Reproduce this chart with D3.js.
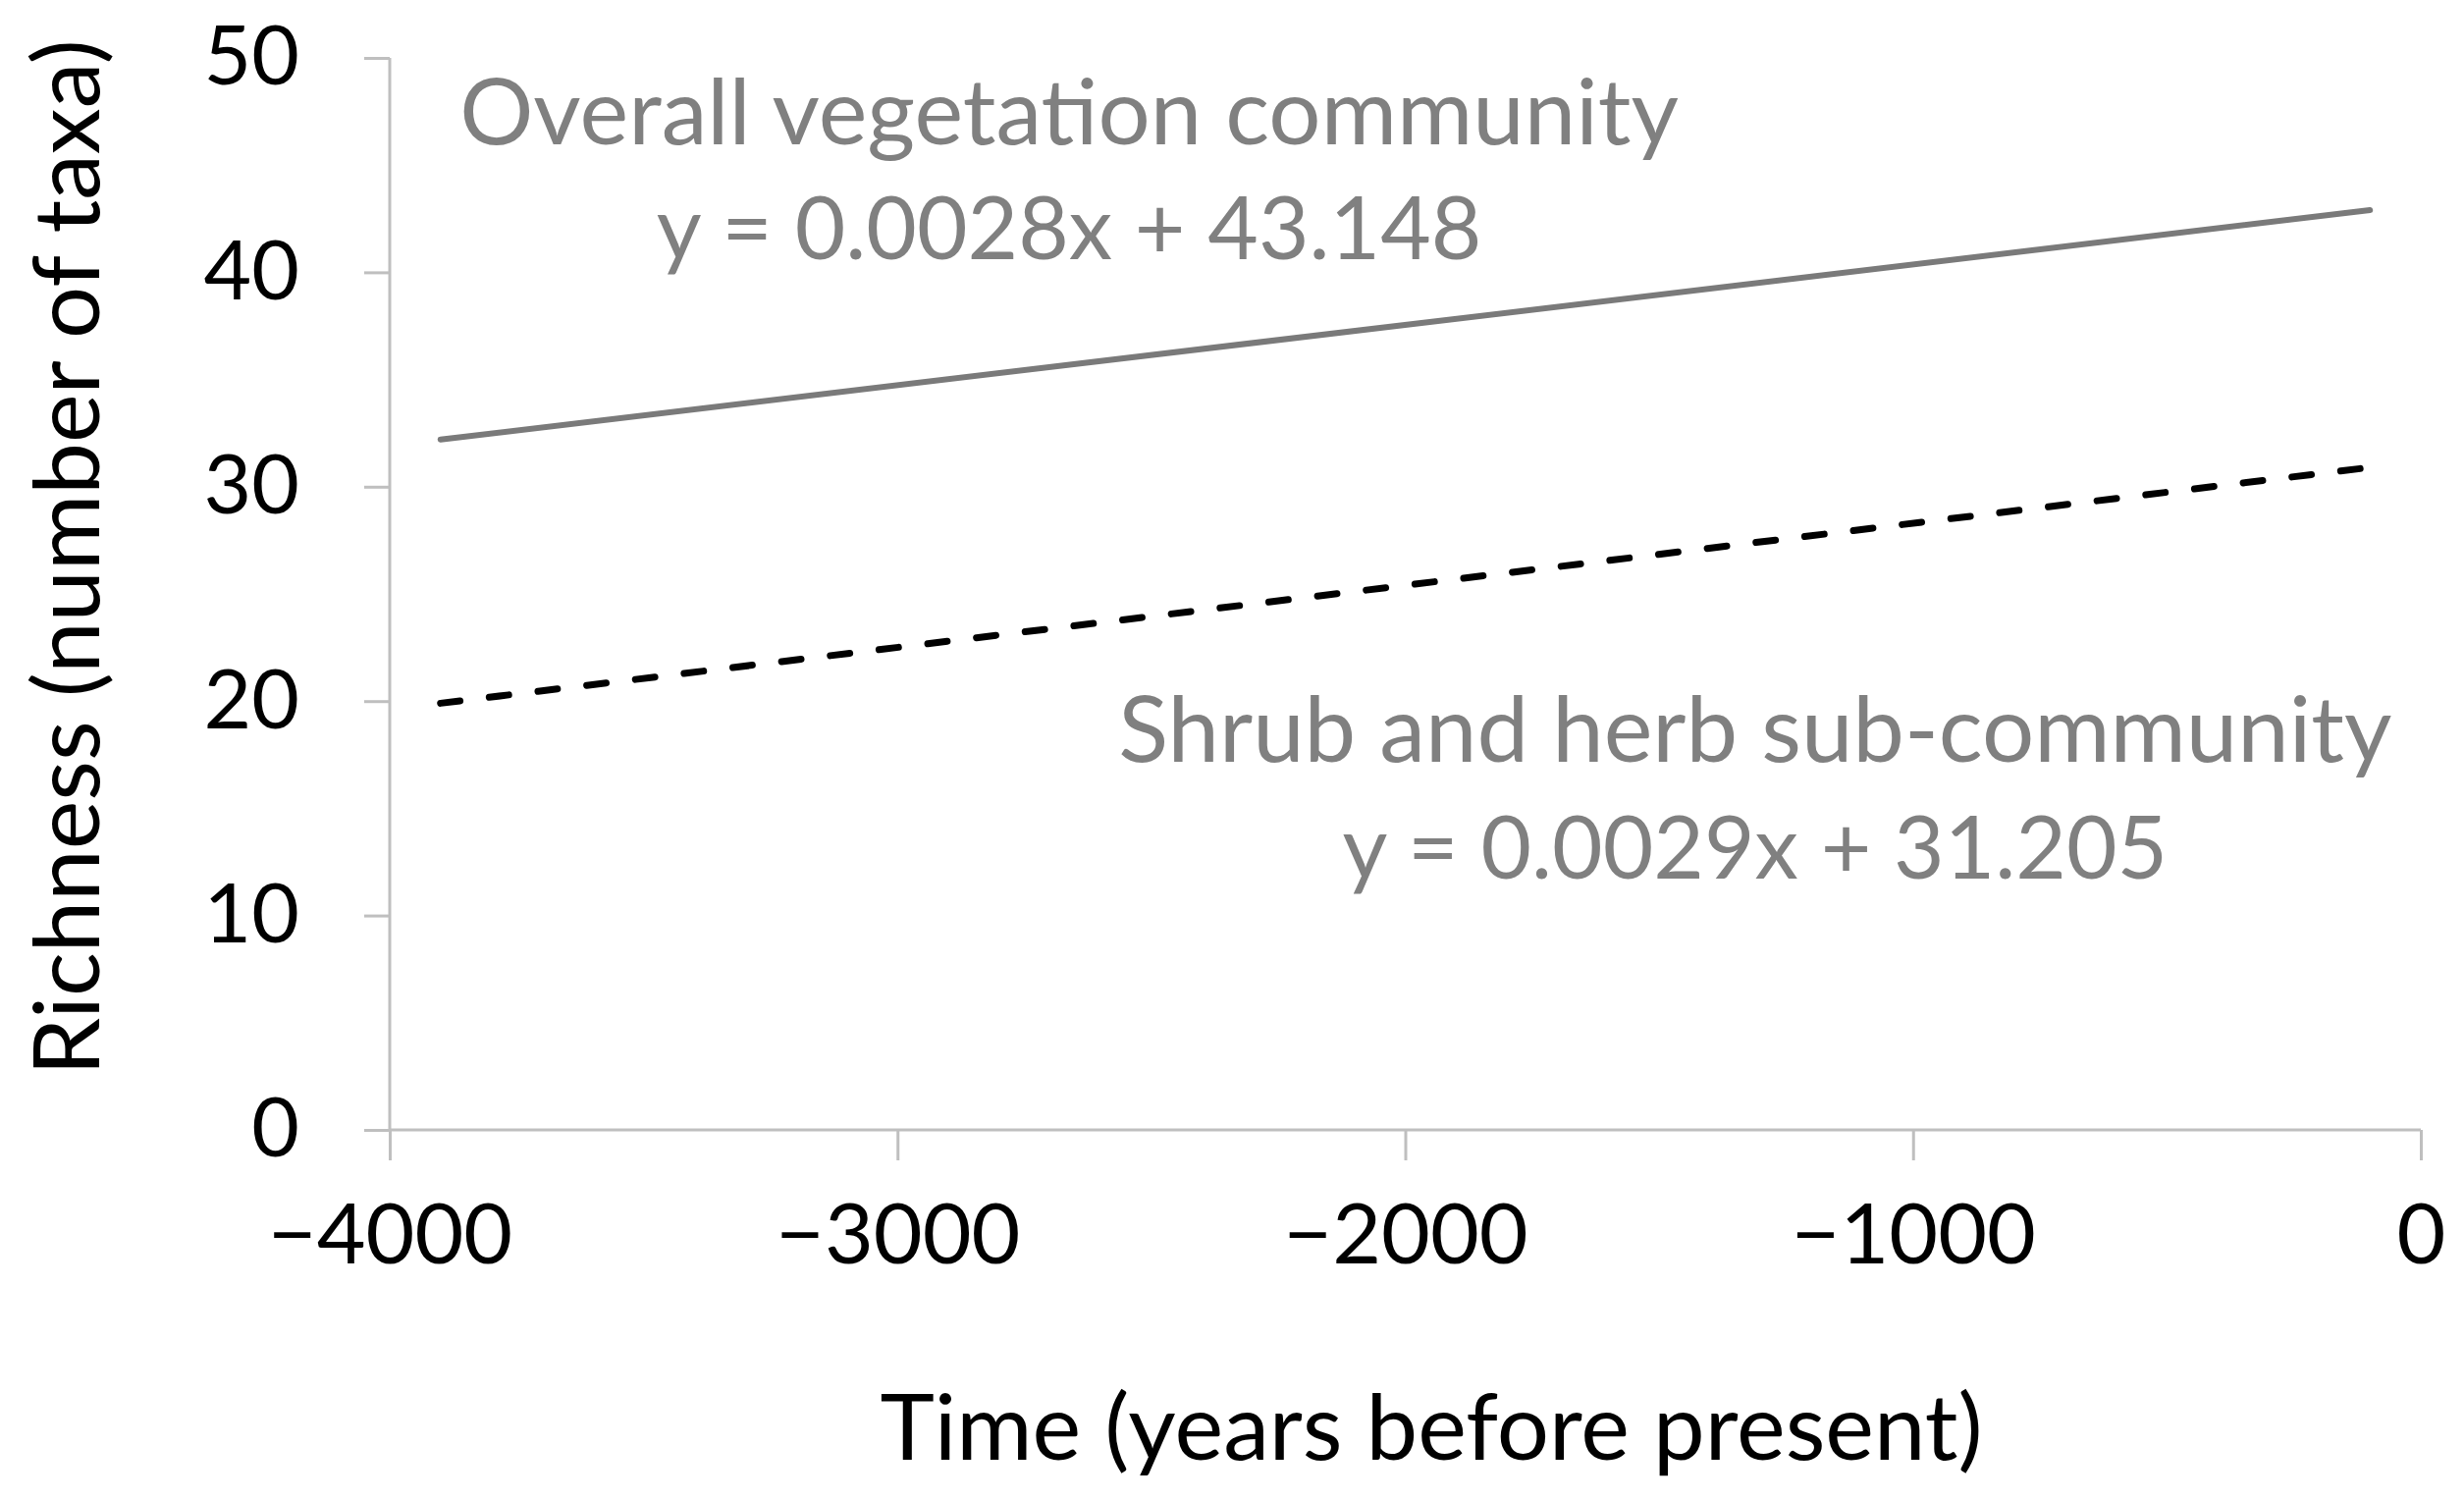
<!DOCTYPE html>
<html>
<head>
<meta charset="utf-8">
<script src="https://cdn.jsdelivr.net/npm/d3@7"></script>
<style>
  body { margin: 0; background: #fff; }
  text { font-family: Lato, "Open Sans", sans-serif; }
</style>
</head>
<body>
<div id="chart"></div>
<script>
(function(){

// Data
let xTicks = [-4000, -3000, -2000, -1000, 0]
let yTicks = [0, 10, 20, 30, 40, 50]

let overallLine = [
  { x: -3900, y: 32.2 },
  { x: -100, y: 42.9 }
]
let shrubLine = [
  { x: -3900, y: 19.9 },
  { x: -100, y: 30.9 }
]

let labels = [
  { text: 'Overall vegetation community', x: -2662, y: 45.95, size: 94 },
  { text: 'y = 0.0028x + 43.148', x: -2662, y: 40.6, size: 89 },
  { text: 'Shrub and herb sub-community', x: -1311, y: 17.15, size: 94 },
  { text: 'y = 0.0029x + 31.205', x: -1311, y: 11.7, size: 89 }
]

let margin = { top: 59, left: 397, right: 44, bottom: 377 }
let width = 2510 - margin.left - margin.right
let height = 1528 - margin.top - margin.bottom

let svg = d3.select('#chart')
  .append('svg')
  .attr('width', 2510)
  .attr('height', 1528)

let g = svg.append('g')
  .attr('transform', 'translate(' + margin.left + ',' + margin.top + ')')

// Scales
let xScale = d3.scaleLinear().domain([-4000, 0]).range([0, width])
let yScale = d3.scaleLinear().domain([0, 50]).range([height, 0])

// Axes
let xAxis = d3.axisBottom(xScale)
  .tickValues(xTicks)
  .tickSize(31)
  .tickPadding(66)
  .tickFormat(d => d < 0 ? '\u2212' + Math.abs(d) : d)

let yAxis = d3.axisLeft(yScale)
  .tickValues(yTicks)
  .tickSize(26)
  .tickPadding(66)

g.append('g')
  .attr('class', 'axis x-axis')
  .attr('transform', 'translate(0,' + height + ')')
  .call(xAxis)

g.append('g')
  .attr('class', 'axis y-axis')
  .call(yAxis)

g.selectAll('.axis .domain, .axis .tick line')
  .attr('stroke', '#bfbfbf')
  .attr('stroke-width', 3)

g.selectAll('.axis .domain')
  .attr('d', function(){
    return d3.select(this.parentNode).classed('x-axis') ? 'M0,0H' + width : 'M0,0V' + height
  })

g.selectAll('.axis text')
  .attr('fill', '#000')
  .style('font-size', '84px')

g.selectAll('.x-axis text')
  .attr('dy', '0.45em')
  .style('font-size', '86px')

// Lines
let line = d3.line()
  .x(d => xScale(d.x))
  .y(d => yScale(d.y))

g.append('path')
  .datum(overallLine)
  .attr('d', line)
  .attr('fill', 'none')
  .attr('stroke', '#7a7a7a')
  .attr('stroke-width', 6)
  .attr('stroke-linecap', 'round')

g.append('path')
  .datum(shrubLine)
  .attr('d', line)
  .attr('fill', 'none')
  .attr('stroke', '#000')
  .attr('stroke-width', 7)
  .attr('stroke-linecap', 'round')
  .attr('stroke-dasharray', '20,30')

// Trendline labels
g.selectAll('.label')
  .data(labels)
  .enter().append('text')
  .attr('class', 'label')
  .attr('x', d => xScale(d.x))
  .attr('y', d => yScale(d.y))
  .attr('text-anchor', 'middle')
  .attr('fill', '#808080')
  .style('font-size', d => d.size + 'px')
  .text(d => d.text)

// Axis titles
svg.append('text')
  .attr('x', 1458)
  .attr('y', 1487)
  .attr('text-anchor', 'middle')
  .attr('fill', '#000')
  .style('font-size', '94px')
  .text('Time (years before present)')

svg.append('text')
  .attr('transform', 'translate(101,568) rotate(-90)')
  .attr('text-anchor', 'middle')
  .attr('fill', '#000')
  .style('font-size', '94px')
  .text('Richness (number of taxa)')

})()
</script>
</body>
</html>
